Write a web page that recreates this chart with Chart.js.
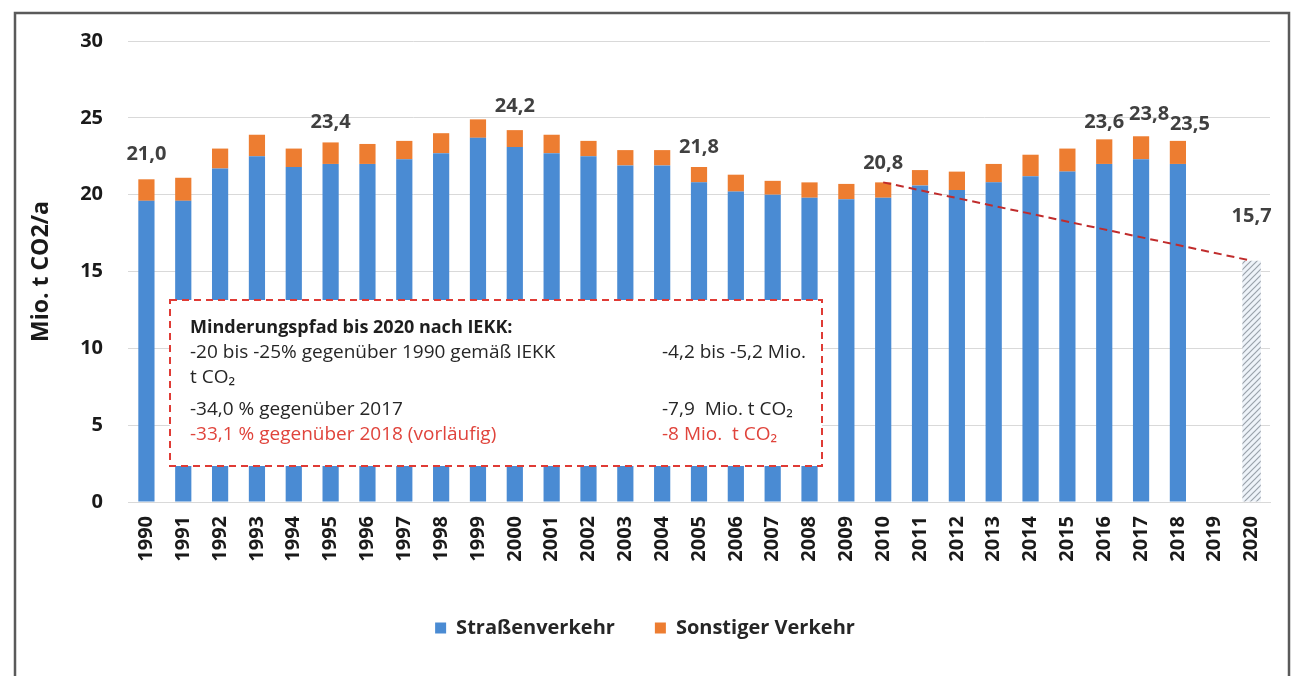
<!DOCTYPE html>
<html>
<head>
<meta charset="utf-8">
<script src="https://cdn.jsdelivr.net/npm/chart.js@4.4.1/dist/chart.umd.min.js"></script>
<style>
  html, body { margin: 0; padding: 0; background: #ffffff; }
  #wrap { position: relative; width: 1298px; height: 676px; }
</style>
</head>
<body>
<div id="wrap"><canvas id="c" width="1298" height="676"></canvas></div>
<script>
// Verkehrsemissionen in Mio. t CO2 pro Jahr
const years = ['1990','1991','1992','1993','1994','1995','1996','1997','1998','1999',
               '2000','2001','2002','2003','2004','2005','2006','2007','2008','2009',
               '2010','2011','2012','2013','2014','2015','2016','2017','2018','2019','2020'];

const roadTraffic = [19.6, 19.6, 21.7, 22.5, 21.8, 22.0, 22.0, 22.3, 22.7, 23.7,
                     23.1, 22.7, 22.5, 21.9, 21.9, 20.8, 20.2, 20.0, 19.8, 19.7,
                     19.8, 20.6, 20.3, 20.8, 21.2, 21.5, 22.0, 22.3, 22.0, null, null];

const otherTraffic = [1.4, 1.5, 1.3, 1.4, 1.2, 1.4, 1.3, 1.2, 1.3, 1.2,
                      1.1, 1.2, 1.0, 1.0, 1.0, 1.0, 1.1, 0.9, 1.0, 1.0,
                      1.0, 1.0, 1.2, 1.2, 1.4, 1.5, 1.6, 1.5, 1.5, null, null];

// Zielwert 2020
const target2020 = [null, null, null, null, null, null, null, null, null, null,
                    null, null, null, null, null, null, null, null, null, null,
                    null, null, null, null, null, null, null, null, null, null, 15.7];

// Minderungspfad 2010 -> 2020
const reductionPath = [null, null, null, null, null, null, null, null, null, null,
                       null, null, null, null, null, null, null, null, null, null,
                       20.8, null, null, null, null, null, null, null, null, null, 15.7];

const labelledYears = ['1990', '1995', '2000', '2005', '2010', '2016', '2017', '2018', '2020'];

const yTickValues = [0, 5, 10, 15, 20, 25, 30];

const noteTitle = 'Minderungspfad bis 2020 nach IEKK:';
const noteRows = [
  { left: '-20 bis -25% gegenüber 1990 gemäß IEKK', right: '-4,2 bis -5,2 Mio.', color: '#262626' },
  { left: 't CO\u2082', right: '', color: '#262626' },
  { left: '-34,0 % gegenüber 2017', right: '-7,9  Mio. t CO\u2082', color: '#262626' },
  { left: '-33,1 % gegenüber 2018 (vorläufig)', right: '-8 Mio.  t CO\u2082', color: '#e0443c' }
];

const FONT = "'Open Sans', 'Noto Sans', sans-serif";
const canvas = document.getElementById('c');
const ctx = canvas.getContext('2d');

function hatchPattern() {
  const t = document.createElement('canvas');
  t.width = 6; t.height = 6;
  const g = t.getContext('2d');
  g.fillStyle = '#eef3f9';
  g.fillRect(0, 0, 6, 6);
  g.strokeStyle = '#9aa2ab';
  g.lineWidth = 1.2;
  g.beginPath();
  g.moveTo(0, 6); g.lineTo(6, 0);
  g.moveTo(-3, 3); g.lineTo(3, -3);
  g.moveTo(3, 9); g.lineTo(9, 3);
  g.stroke();
  return ctx.createPattern(t, 'repeat');
}

// outer frame
const framePlugin = {
  id: 'frame',
  beforeDraw(chart) {
    const c = chart.ctx;
    c.save();
    c.fillStyle = '#ffffff';
    c.fillRect(0, 0, chart.width, chart.height);
    c.strokeStyle = '#5a5a5a';
    c.lineWidth = 2.5;
    c.strokeRect(15, 13, 1274, 700);
    c.restore();
  }
};

// dashed annotation box with the reduction targets
const noteBoxPlugin = {
  id: 'noteBox',
  afterDatasetsDraw(chart, args, opts) {
    const c = chart.ctx;
    const b = opts.box;
    c.save();
    c.fillStyle = '#ffffff';
    c.fillRect(b.x, b.y, b.w, b.h);
    c.setLineDash([7, 5]);
    c.strokeStyle = '#df3b35';
    c.lineWidth = 2;
    c.strokeRect(b.x, b.y, b.w, b.h);
    c.setLineDash([]);
    c.textBaseline = 'middle';
    c.textAlign = 'left';
    c.fillStyle = '#1e1e1e';
    c.font = 'bold 18px ' + FONT;
    c.fillText(noteTitle, b.x + opts.padLeft, opts.rowY[0]);
    c.font = '19px ' + FONT;
    noteRows.forEach((r, i) => {
      c.fillStyle = r.color;
      c.fillText(r.left, b.x + opts.padLeft, opts.rowY[i + 1]);
      if (r.right) c.fillText(r.right, opts.rightX, opts.rowY[i + 1]);
    });
    c.restore();
  }
};

// value labels above selected bars
const valueLabelPlugin = {
  id: 'valueLabels',
  afterDatasetsDraw(chart, args, opts) {
    const c = chart.ctx;
    const xs = chart.scales.x, ys = chart.scales.y;
    c.save();
    c.font = 'bold 20px ' + FONT;
    c.fillStyle = '#404040';
    c.textAlign = 'center';
    c.textBaseline = 'middle';
    labelledYears.forEach(yr => {
      const i = years.indexOf(yr);
      const total = (roadTraffic[i] || 0) + (otherTraffic[i] || 0) + (target2020[i] || 0);
      const off = opts.offsets[yr] || { dx: 0, dy: 20 };
      const px = xs.getPixelForValue(i) + off.dx;
      const py = ys.getPixelForValue(total) - off.dy;
      c.fillText(total.toFixed(1).replace('.', ','), px, py);
    });
    c.restore();
  }
};

new Chart(ctx, {
  type: 'bar',
  data: {
    labels: years,
    datasets: [
      {
        label: 'Straßenverkehr',
        data: roadTraffic,
        backgroundColor: '#4a8bd3',
        stack: 'emissions',
        barPercentage: 0.44,
        categoryPercentage: 1.0,
        order: 2
      },
      {
        label: 'Sonstiger Verkehr',
        data: otherTraffic,
        backgroundColor: '#ed7d31',
        stack: 'emissions',
        barPercentage: 0.44,
        categoryPercentage: 1.0,
        order: 2
      },
      {
        label: 'Ziel 2020',
        data: target2020,
        backgroundColor: hatchPattern(),
        stack: 'emissions',
        barPercentage: 0.5,
        categoryPercentage: 1.0,
        order: 2
      },
      {
        type: 'line',
        label: 'Minderungspfad',
        data: reductionPath,
        stack: 'path',
        borderColor: '#c02c2c',
        borderWidth: 2,
        borderDash: [8, 5],
        pointRadius: 0,
        spanGaps: true,
        fill: false,
        order: 1
      }
    ]
  },
  options: {
    responsive: false,
    animation: false,
    devicePixelRatio: 1,
    layout: { padding: { left: 20, right: 28, top: 41, bottom: 28 } },
    plugins: {
      legend: {
        position: 'bottom',
        labels: {
          filter: item => item.datasetIndex < 2,
          boxWidth: 11,
          boxHeight: 11,
          padding: 40,
          color: '#262626',
          font: { family: FONT, size: 20, weight: 'bold' }
        }
      },
      tooltip: { enabled: false },
      noteBox: {
        box: { x: 170, y: 300, w: 652, h: 166 },
        padLeft: 20,
        rightX: 662,
        rowY: [328, 353, 378, 410, 435]
      },
      valueLabels: {
        offsets: {
          '1990': { dx: 0, dy: 25 },
          '1995': { dx: 0, dy: 20 },
          '2000': { dx: 0, dy: 24 },
          '2005': { dx: 0, dy: 20 },
          '2010': { dx: 0, dy: 19 },
          '2016': { dx: 0, dy: 17 },
          '2017': { dx: 8, dy: 22 },
          '2018': { dx: 12, dy: 17 },
          '2020': { dx: 0, dy: 44 }
        }
      }
    },
    scales: {
      x: {
        stacked: true,
        grid: { display: false, drawTicks: false },
        border: { display: true, color: '#d9d9d9' },
        ticks: {
          autoSkip: false,
          minRotation: 90,
          maxRotation: 90,
          padding: 14,
          color: '#1a1a1a',
          font: { family: FONT, size: 20, weight: 'bold' }
        },
        afterFit(scale) { scale.height = 76; }
      },
      y: {
        stacked: true,
        min: 0,
        max: 30,
        afterBuildTicks(scale) { scale.ticks = yTickValues.map(v => ({ value: v })); },
        grid: { color: '#d9d9d9', lineWidth: 1, drawTicks: false },
        border: { display: false },
        ticks: {
          padding: 25,
          color: '#1a1a1a',
          font: { family: FONT, size: 20, weight: 'bold' }
        },
        title: {
          display: true,
          text: 'Mio. t CO2/a',
          color: '#1a1a1a',
          padding: { top: 8, bottom: 0 },
          font: { family: FONT, size: 23, weight: 'bold' }
        },
        afterFit(scale) { scale.width = 108; }
      }
    }
  },
  plugins: [framePlugin, noteBoxPlugin, valueLabelPlugin]
});
</script>
</body>
</html>
